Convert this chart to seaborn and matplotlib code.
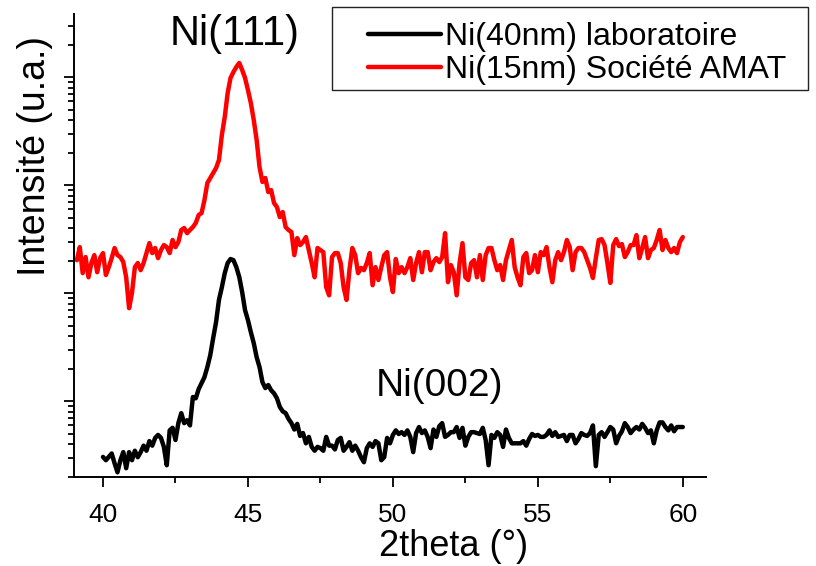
import numpy as np
import matplotlib
matplotlib.use("Agg")
import matplotlib.pyplot as plt
import seaborn as sns
from matplotlib.patches import Rectangle
from matplotlib.ticker import MultipleLocator, LogLocator, NullFormatter

# 2theta grids (degrees), one point every 0.1 deg
two_theta_amat = np.round(np.arange(39.1, 60.05, 0.1), 1)
two_theta_lab = np.round(np.arange(40.0, 60.05, 0.1), 1)

# Ni(15nm) Societe AMAT - intensity (a.u.)
ni15_amat = [
    203, 268, 154, 217, 141, 191, 226, 157, 212,
    236, 148, 175, 212, 263, 226, 217, 195, 141, 73,
    101, 175, 191, 164, 191, 236, 292, 236, 263, 212,
    252, 280, 268, 236, 312, 268, 299, 386, 403, 361,
    386, 411, 448, 531, 554, 731, 1050, 1170, 1300, 1445,
    1715, 2920, 4290, 7150, 9860, 11200, 12450, 13560, 11690, 9860,
    7620, 5780, 4030, 2630, 1475, 1075, 1170, 867, 904, 686,
    630, 508, 566, 411, 386, 370, 226, 325, 280, 299,
    332, 252, 191, 141, 263, 252, 241, 114, 96, 217,
    236, 236, 191, 114, 87, 164, 263, 226, 154, 172,
    164, 191, 236, 119, 175, 133, 175, 226, 241, 141,
    103, 208, 154, 175, 154, 175, 212, 133, 191, 241,
    157, 241, 241, 164, 195, 212, 195, 217, 361, 127,
    183, 157, 96, 191, 292, 141, 133, 191, 203, 141,
    226, 133, 226, 263, 263, 203, 164, 183, 133, 203,
    252, 312, 175, 141, 119, 217, 236, 154, 164, 226,
    157, 241, 226, 268, 175, 127, 203, 241, 203, 241,
    312, 268, 164, 241, 263, 263, 241, 203, 172, 139,
    212, 312, 318, 280, 191, 125, 280, 318, 274, 286,
    217, 241, 280, 280, 346, 212, 263, 332, 212, 252,
    263, 312, 386, 252, 312, 263, 241, 263, 236, 299,
    332,
]

# Ni(40nm) laboratoire
ni40_lab = [
    3.07, 2.86, 3.07, 3.3, 2.68, 2.21, 2.86, 3.4, 2.41, 3.4,
    2.86, 3.5, 3.05, 3.4, 3.9, 3.5, 4.3, 3.9, 4.6, 4.9,
    4.6, 3.8, 2.57, 5.4, 5.7, 4.4, 6.3, 7.8, 6.3, 6.7,
    6.0, 11.0, 10.7, 13.0, 14.8, 16.8, 20.8, 26.8, 38.5, 54.2,
    87, 114, 154, 191, 208, 203, 175, 142, 103, 70,
    56.6, 43.8, 34.7, 25.7, 20.8, 15.1, 13.3, 14.2, 12.7, 11.9,
    10.7, 8.9, 8.1, 7.8, 6.9, 6.3, 5.5, 6.2, 4.8, 5.1,
    4.1, 4.7, 3.8, 3.5, 3.8, 3.7, 3.5, 4.7, 3.9, 3.9,
    3.6, 4.4, 4.6, 3.5, 3.8, 4.2, 3.5, 3.9, 3.5, 3.05,
    2.74, 3.7, 4.1, 3.8, 4.3, 4.1, 2.86, 3.05, 4.6, 4.1,
    4.9, 5.4, 5.0, 5.2, 4.9, 5.4, 4.7, 3.4, 5.1, 5.8,
    5.1, 5.4, 4.7, 3.7, 5.5, 4.7, 5.9, 6.3, 4.7, 4.9,
    5.2, 5.2, 5.8, 4.6, 5.7, 3.9, 4.7, 5.2, 5.2, 5.1,
    5.0, 5.7, 4.4, 2.57, 4.9, 4.6, 5.2, 4.9, 3.8, 5.5,
    4.6, 4.1, 4.1, 4.1, 4.1, 4.3, 3.9, 4.5, 5.0, 4.8,
    4.9, 4.7, 4.7, 4.9, 5.4, 4.8, 5.2, 4.7, 4.8, 4.9,
    4.3, 4.9, 4.9, 4.1, 4.5, 5.1, 4.9, 4.8, 5.1, 6.0,
    2.52, 4.9, 5.2, 4.7, 5.2, 5.8, 5.5, 4.1, 4.8, 5.3,
    6.3, 5.8, 5.1, 5.5, 5.8, 5.5, 6.2, 5.7, 5.1, 5.4,
    4.1, 5.4, 6.4, 6.4, 5.8, 5.4, 6.0, 5.3, 5.8, 5.8,
    5.8,
]

series_labels = ["Ni(40nm) laboratoire", "Ni(15nm) Société AMAT"]
peak_labels = ["Ni(111)", "Ni(002)"]

sns.set_style("ticks")
plt.rcParams["font.family"] = ["Liberation Sans", "DejaVu Sans"]
plt.rcParams["text.color"] = "black"
plt.rcParams["axes.labelcolor"] = "black"

fig = plt.figure(figsize=(8.16, 5.66), dpi=100)
ax = fig.add_axes([74 / 816, 89 / 566, 632 / 816, 463 / 566])

sns.lineplot(x=two_theta_lab, y=ni40_lab, color="black", lw=3.2, ax=ax,
             label=series_labels[0], legend=False)
sns.lineplot(x=two_theta_amat, y=ni15_amat, color="#ff0000", lw=3.2, ax=ax,
             label=series_labels[1], legend=False)

ax.set_yscale("log")
ax.set_ylim(2.0, 38500)
ax.set_xlim(39, 60.8)
ax.xaxis.set_major_locator(MultipleLocator(5))
ax.xaxis.set_minor_locator(MultipleLocator(2.5))
ax.yaxis.set_major_locator(LogLocator(base=10, numticks=10))
ax.yaxis.set_minor_locator(LogLocator(base=10, subs=range(2, 10), numticks=20))
ax.yaxis.set_major_formatter(NullFormatter())
ax.yaxis.set_minor_formatter(NullFormatter())

sns.despine(ax=ax)
for s in ("left", "bottom"):
    ax.spines[s].set_linewidth(1.4)
    ax.spines[s].set_color("black")
ax.tick_params(which="major", direction="out", length=7.5, width=1.3,
               labelsize=19, pad=11, color="black", labelcolor="black")
ax.tick_params(which="minor", direction="out", length=4, width=1.3, color="black")

ax.set_xlabel("2theta (°)", fontsize=26)
ax.xaxis.set_label_coords(0.6, -0.112)
ax.set_ylabel("Intensité (u.a.)", fontsize=27)
ax.yaxis.label.set_va("center")
ax.yaxis.set_label_coords(-0.062, 0.693)

ax.text(44.55, 25000, peak_labels[0], ha="center", va="center", fontsize=30)
ax.text(51.6, 13.9, peak_labels[1], ha="center", va="center", fontsize=28)

# legend box sticks out past the axes on the right, like the original
fig.patches.append(Rectangle((332 / 816, 1 - 90 / 566), 476 / 816, 83 / 566,
                             transform=fig.transFigure, fill=False,
                             edgecolor="#222222", lw=1.0))
handles, labels = ax.get_legend_handles_labels()
fig.legend(handles, labels, loc="upper left", bbox_to_anchor=(368 / 816, 1 - 22 / 566),
           frameon=False, fontsize=23, handlelength=2.3, handletextpad=0.1,
           labelspacing=0.1, borderpad=0, borderaxespad=0)

fig.savefig("out.png", dpi=100)
